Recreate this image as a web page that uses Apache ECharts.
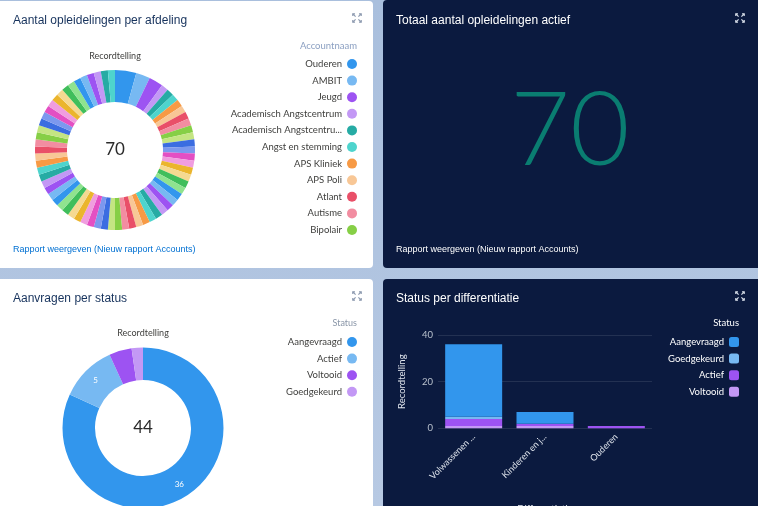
<!DOCTYPE html>
<html>
<head>
<meta charset="utf-8">
<script src="https://cdn.jsdelivr.net/npm/echarts@6/dist/echarts.min.js"></script>
<style>
  html, body { margin: 0; padding: 0; }
  #wrap { position: relative; width: 758px; height: 506px; background: linear-gradient(180deg, #a9bfdd 0%, #b7c9e3 100%); overflow: hidden; }
  .card { position: absolute; border-radius: 4px; }
  .light { background: #ffffff; }
  .dark { background: #0b1a3f; }
  #chart { position: absolute; left: 0; top: 0; width: 758px; height: 506px; }
</style>
</head>
<body>
<div id="wrap">
  <div class="card light" style="left:-4px; top:1px; width:377px; height:267px;"></div>
  <div class="card dark" style="left:383px; top:0px; width:380px; height:268px;"></div>
  <div class="card light" style="left:-4px; top:279px; width:377px; height:240px;"></div>
  <div class="card dark" style="left:383px; top:279px; width:380px; height:240px;"></div>
  <div id="chart"></div>
</div>
<script>
// ---------- DATA ----------
const accountNames = [
  'Ouderen', 'AMBIT', 'Jeugd', 'Academisch Angstcentrum', 'Academisch Angstcentrum Kind',
  'Angst en stemming', 'APS Kliniek', 'APS Poli', 'Atlant', 'Autisme', 'Bipolair',
  'Centrum Eetstoornissen', 'Crisisdienst', 'Dagbehandeling', 'Depressie', 'Dubbele Diagnose',
  'Eerste Psychose', 'EMDR', 'FACT Noord', 'FACT Zuid', 'FACT Oost', 'FACT West',
  'Forensisch', 'Gezinsbehandeling', 'Hersenletsel', 'HIC', 'Jongvolwassenen',
  'Kinder en Jeugd', 'Klinische Opname', 'Kortdurende Behandeling', 'LVB', 'Medische Psychiatrie',
  'Neuropsychiatrie', 'OCD', 'Ouder en Kind', 'Persoonlijkheid', 'Polikliniek Centrum',
  'Polikliniek Noord', 'Polikliniek Zuid', 'Psychotrauma', 'PTSS', 'Rehabilitatie',
  'Schematherapie', 'Slaapcentrum', 'Somatisch', 'Stemming', 'Systeemtherapie',
  'Topklinisch', 'Trauma', 'Verslaving', 'Vroege Interventie', 'Wonen', 'ADHD',
  'Behandelcentrum', 'Cognitieve Therapie', 'Deeltijd', 'Expertisecentrum', 'Gedrag',
  'Huisartsenzorg', 'Intensieve Zorg', 'Jeugd Kliniek', 'Kinderpsychiatrie', 'Langdurige Zorg',
  'Mindfulness', 'Nazorg', 'Onderzoek'
];
const accountCounts = [
  3, 2, 2, 1, 1, 1, 1, 1, 1, 1, 1,
  1, 1, 1, 1, 1, 1, 1, 1, 1, 1, 1,
  1, 1, 1, 1, 1, 1, 1, 1, 1, 1, 1,
  1, 1, 1, 1, 1, 1, 1, 1, 1, 1, 1,
  1, 1, 1, 1, 1, 1, 1, 1, 1, 1, 1,
  1, 1, 1, 1, 1, 1, 1, 1, 1, 1, 1
];
const accountLegendCount = 11;

const statusNames = ['Aangevraagd', 'Actief', 'Voltooid', 'Goedgekeurd'];
const statusCounts = [36, 5, 2, 1];

const diffCategories = ['Volwassenen ...', 'Kinderen en j...', 'Ouderen'];
const diffVoltooid = [1, 1, 0];
const diffActief = [3, 1, 1];
const diffGoedgekeurd = [1, 0, 0];
const diffAangevraagd = [31, 5, 0];
const diffLegendOrder = ['Aangevraagd', 'Goedgekeurd', 'Actief', 'Voltooid'];
const yTicks = [0, 20, 40];

const palette = [
  '#3296ed', '#77b9f2', '#9d53f2', '#c398f5', '#26aba4', '#4ed4cd', '#f79a45', '#f8c796',
  '#e94f68', '#f28da1', '#86cf46', '#c4e583', '#3b6de1', '#7c98ee', '#e44fc3', '#f09ddf',
  '#ebb52d', '#f5d991', '#40be5b', '#8fe38f'
];
const statusColors = { 'Aangevraagd': '#3296ed', 'Actief': '#77b9f2', 'Voltooid': '#9d53f2', 'Goedgekeurd': '#c398f5' };
const barColors = { 'Aangevraagd': '#3296ed', 'Goedgekeurd': '#77b9f2', 'Actief': '#9d53f2', 'Voltooid': '#c398f5' };

// ---------- CHART ----------
const sum = a => a.reduce((s, v) => s + v, 0);
const TITLE_FONT = '"Liberation Sans", Arial, sans-serif';
const BODY_FONT = 'Lato, "Noto Sans", sans-serif';

function expandIcon(cx, cy, color) {
  const s = 4.2, a = 2.2;
  const lines = [];
  [[-1, -1], [1, -1], [-1, 1], [1, 1]].forEach(([dx, dy]) => {
    lines.push({ type: 'polyline', shape: { points: [[cx + dx * s, cy + dy * (s - a)], [cx + dx * s, cy + dy * s], [cx + dx * (s - a), cy + dy * s]] }, style: { stroke: color, lineWidth: 1.2, fill: null } });
    lines.push({ type: 'line', shape: { x1: cx + dx * s, y1: cy + dy * s, x2: cx + dx * 1.4, y2: cy + dy * 1.4 }, style: { stroke: color, lineWidth: 1.2 } });
  });
  return lines;
}

function txt(text, x, y, size, color, align, font, weight) {
  return { type: 'text', x: x, y: y, z: 50, silent: true,
    style: { text: text, fill: color, font: (weight || 'normal') + ' ' + size + 'px ' + (font || BODY_FONT), textAlign: align || 'left', textVerticalAlign: 'middle' } };
}

const accountData = accountNames.map((n, i) => ({ name: n, value: accountCounts[i], itemStyle: { color: palette[i % palette.length] } }));
const statusData = statusNames.map((n, i) => ({ name: n, value: statusCounts[i], itemStyle: { color: statusColors[n] },
  label: { show: statusCounts[i] >= 5 } }));

const totalAccounts = sum(accountCounts);
const totalStatus = sum(statusCounts);

const chart = echarts.init(document.getElementById('chart'));
chart.setOption({
  animation: false,
  textStyle: { fontFamily: BODY_FONT },
  graphic: { elements: [
    txt('Aantal opleidelingen per afdeling', 13, 21, 12, '#16325c', 'left', TITLE_FONT),
    txt('Totaal aantal opleidelingen actief', 396, 21, 12, '#ffffff', 'left', TITLE_FONT),
    txt('Aanvragen per status', 13, 299, 12, '#16325c', 'left', TITLE_FONT),
    txt('Status per differentiatie', 396, 299, 12, '#ffffff', 'left', TITLE_FONT),
    txt('Recordtelling', 115, 56, 9, '#3e3e3c', 'center'),
    txt('Recordtelling', 143, 333, 9, '#3e3e3c', 'center'),
    txt(String(totalAccounts), 115, 150, 17, '#2b2b2b', 'center'),
    txt(String(totalStatus), 143, 428, 17, '#2b2b2b', 'center'),
    txt('Accountnaam', 357, 46, 9.5, '#8ca0c2', 'right'),
    txt('Status', 357, 323, 9, '#8a96a8', 'right'),
    txt('Status', 739, 323, 9.5, '#ffffff', 'right'),
    txt('Differentiatie', 545, 509, 9.5, '#dfe4ec', 'center'),
    txt('Rapport weergeven (Nieuw rapport Accounts)', 13, 250, 9, '#0070d2', 'left', TITLE_FONT),
    txt('Rapport weergeven (Nieuw rapport Accounts)', 396, 250, 9, '#ffffff', 'left', TITLE_FONT),
    txt(String(totalAccounts), 570, 132, 103, '#0a7d71', 'center', 'Lato, Roboto, "Liberation Sans", sans-serif', '300')
  ].concat(expandIcon(357, 18, '#8d9ab0'), expandIcon(740, 18, '#d6dde8'), expandIcon(357, 296, '#8d9ab0'), expandIcon(740, 296, '#d6dde8')) },
  legend: [
    { data: accountNames.slice(0, accountLegendCount), orient: 'vertical', align: 'right', right: 401, top: 59,
      itemWidth: 10, itemHeight: 10, itemGap: 6.6, icon: 'circle', padding: 0, selectedMode: false,
      textStyle: { color: '#3e3e3c', fontSize: 9.5, fontFamily: BODY_FONT, width: 118, overflow: 'truncate', ellipsis: '...' } },
    { data: statusNames.map(n => ({ name: n, itemStyle: { color: statusColors[n] } })), orient: 'vertical', align: 'right', right: 401, top: 337,
      itemWidth: 10, itemHeight: 10, itemGap: 6.6, icon: 'circle', padding: 0, selectedMode: false,
      textStyle: { color: '#3e3e3c', fontSize: 9.5, fontFamily: BODY_FONT } },
    { data: diffLegendOrder.map(n => ({ name: n, itemStyle: { color: barColors[n] } })), orient: 'vertical', align: 'right', right: 19, top: 337,
      itemWidth: 10, itemHeight: 10, itemGap: 6.6, icon: 'roundRect', padding: 0, selectedMode: false,
      textStyle: { color: '#ffffff', fontSize: 9.5, fontFamily: BODY_FONT } }
  ],
  grid: { left: 438, right: 106, top: 335, bottom: 77.7, containLabel: false, outerBoundsMode: 'none' },
  xAxis: { type: 'category', data: diffCategories,
    axisLine: { show: false }, axisTick: { show: false },
    axisLabel: { rotate: 45, color: '#dfe4ec', fontSize: 9, margin: 7, interval: 0 } },
  yAxis: { type: 'value', min: yTicks[0], max: yTicks[yTicks.length - 1], interval: yTicks[1] - yTicks[0],
    axisLine: { show: false }, axisTick: { show: false },
    axisLabel: { color: '#b8c0cc', fontSize: 9.5, margin: 5 },
    splitLine: { lineStyle: { color: 'rgba(255,255,255,0.10)' } },
    name: 'Recordtelling', nameLocation: 'middle', nameGap: 31, nameRotate: 90, nameMoveOverlap: false,
    nameTextStyle: { color: '#dfe4ec', fontSize: 9.5 } },
  series: [
    { type: 'pie', center: [115, 150], radius: [48, 80], startAngle: 90, clockwise: true,
      label: { show: false }, labelLine: { show: false }, emphasis: { disabled: true },
      itemStyle: { borderWidth: 0 }, data: accountData },
    { type: 'pie', center: [143, 428], radius: [48, 80.5], startAngle: 90, clockwise: true,
      label: { position: 'inside', color: '#ffffff', fontSize: 8, formatter: '{c}' }, labelLine: { show: false },
      emphasis: { disabled: true }, itemStyle: { borderWidth: 0 }, data: statusData },
    { type: 'bar', name: 'Voltooid', stack: 's', data: diffVoltooid, barWidth: 57, itemStyle: { color: barColors['Voltooid'] } },
    { type: 'bar', name: 'Actief', stack: 's', data: diffActief, barWidth: 57, itemStyle: { color: barColors['Actief'] } },
    { type: 'bar', name: 'Goedgekeurd', stack: 's', data: diffGoedgekeurd, barWidth: 57, itemStyle: { color: barColors['Goedgekeurd'] } },
    { type: 'bar', name: 'Aangevraagd', stack: 's', data: diffAangevraagd, barWidth: 57, itemStyle: { color: barColors['Aangevraagd'] } }
  ]
});
</script>
</body>
</html>
